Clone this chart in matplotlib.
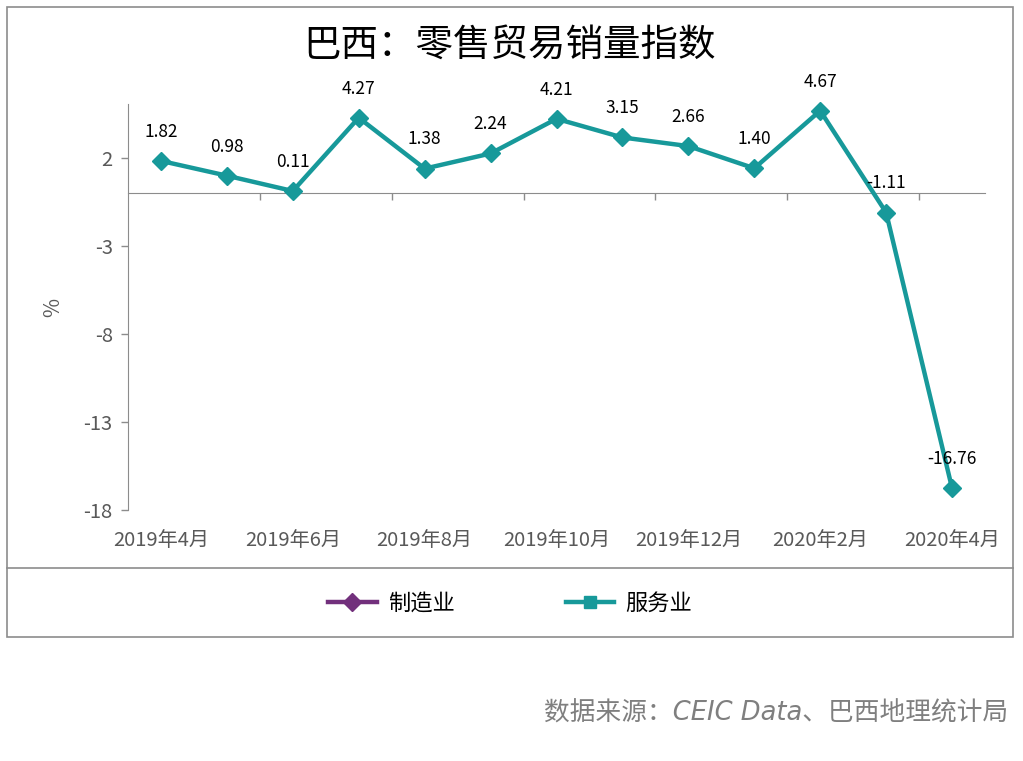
import matplotlib.pyplot as plt
from matplotlib.lines import Line2D
from matplotlib.patches import Rectangle

plt.rcParams['font.family'] = ['Noto Sans CJK SC', 'DejaVu Sans']

# data
months = ['2019年4月', '2019年5月', '2019年6月', '2019年7月', '2019年8月', '2019年9月', '2019年10月',
          '2019年11月', '2019年12月', '2020年1月', '2020年2月', '2020年3月', '2020年4月']
services = [1.82, 0.98, 0.11, 4.27, 1.38, 2.24, 4.21, 3.15, 2.66, 1.40, 4.67, -1.11, -16.76]
yticks = [2, -3, -8, -13, -18]

teal = '#17999a'
purple = '#72307c'
gray = '#595959'
frame = '#8c8c8c'

W, H = 1023, 761
fig = plt.figure(figsize=(W / 100, H / 100), dpi=100)

# outer box and legend separator
fig.patches.append(Rectangle((7 / W, 1 - 637 / H), 1006 / W, 630 / H, transform=fig.transFigure,
                             fill=False, edgecolor=frame, lw=1.2))
fig.lines.append(Line2D([7 / W, 1013 / W], [1 - 568 / H, 1 - 568 / H], transform=fig.transFigure,
                        color=frame, lw=1.2))

ax = fig.add_axes([128 / W, 1 - 510 / H, 857 / W, 406 / H])
x = list(range(len(months)))
ax.plot(x, services, color=teal, lw=3.2, marker='D', markersize=9, zorder=3, clip_on=False)

for xi, v in zip(x, services):
    ax.annotate(f'{v:.2f}', (xi, v), xytext=(0, 21), textcoords='offset points',
                ha='center', va='center', fontsize=12.5, color='black', zorder=4)

ax.set_xlim(-0.5, len(months) - 0.5)
ax.set_ylim(-18, 5.05)
ax.set_yticks(yticks)
ax.set_yticklabels([str(t) for t in yticks], fontsize=14.5, color=gray)
ax.tick_params(axis='y', colors=frame, labelcolor=gray, direction='out', length=5, width=1, pad=6)

for s in ['top', 'right']:
    ax.spines[s].set_visible(False)
ax.spines['left'].set_color(frame)
ax.spines['bottom'].set_color(frame)
ax.spines['bottom'].set_position(('data', 0))

# tick marks at category boundaries every two months
bounds = [i + 0.5 for i in range(1, len(months) - 1, 2)]
ax.set_xticks(bounds)
ax.set_xticklabels([])
ax.tick_params(axis='x', colors=frame, direction='out', length=5, width=1)

# category labels at bottom
for xi in x[::2]:
    ax.text(xi, -0.05, months[xi], transform=ax.get_xaxis_transform(), ha='center', va='top',
            fontsize=14.5, color=gray)

ax.set_ylabel('%', fontsize=15, color=gray, labelpad=14)

fig.text(510 / W, 1 - 45 / H, '巴西：零售贸易销量指数', ha='center', va='center', fontsize=27, color='black')

handles = [Line2D([0], [0], color=purple, lw=3.2, marker='D', markersize=9),
           Line2D([0], [0], color=teal, lw=3.2, marker='s', markersize=9)]
fig.legend(handles, ['制造业', '服务业'], loc='center', bbox_to_anchor=(510 / W, 1 - 603 / H), ncol=2,
           frameon=False, fontsize=16, handlelength=2.2, columnspacing=5, handletextpad=0.5)

fig.text(1008 / W, 1 - 714 / H, '数据来源：CEIC Data、巴西地理统计局', ha='right', va='center',
         fontsize=18.5, color='#7f7f7f', style='italic', family=['DejaVu Sans', 'Noto Sans CJK SC'])

fig.savefig('out.png', dpi=100)
